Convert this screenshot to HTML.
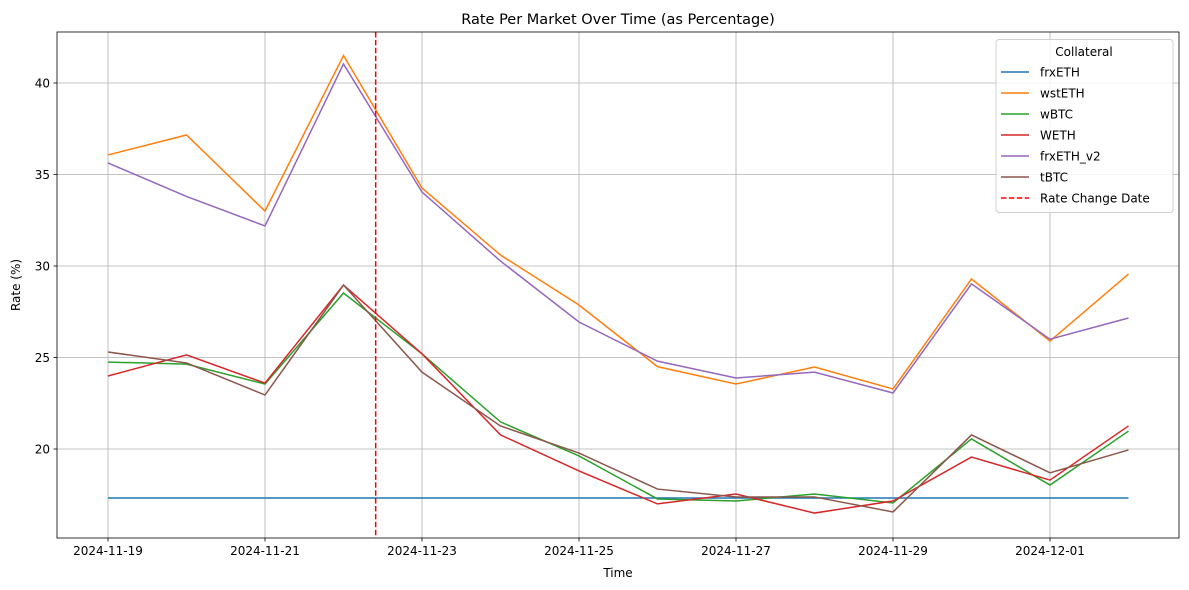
<!DOCTYPE html>
<html><head><meta charset="utf-8"><style>
body{margin:0;background:#fff;}
svg{display:block;font-family:"DejaVu Sans","Liberation Sans",sans-serif;}
</style></head><body>
<svg id="chart" width="1189" height="590" xmlns="http://www.w3.org/2000/svg"></svg>
<script>
const dates=["2024-11-19","2024-11-20","2024-11-21","2024-11-22","2024-11-23","2024-11-24","2024-11-25","2024-11-26","2024-11-27","2024-11-28","2024-11-29","2024-11-30","2024-12-01","2024-12-02"];
const xTickLabels=["2024-11-19","2024-11-21","2024-11-23","2024-11-25","2024-11-27","2024-11-29","2024-12-01"];
const yTicks=[20,25,30,35,40];
const seriesNames=["frxETH","wstETH","wBTC","WETH","frxETH_v2","tBTC"];
const frxETH=[17.32,17.32,17.32,17.32,17.32,17.32,17.32,17.32,17.32,17.32,17.32,17.32,17.32,17.32];
const wstETH=[36.07,37.16,33.0,41.5,34.26,30.6,27.87,24.5,23.55,24.48,23.28,29.29,25.9,29.56];
const wBTC=[24.75,24.64,23.55,28.52,25.2,21.48,19.62,17.27,17.16,17.54,17.05,20.55,18.03,20.98];
const WETH=[23.99,25.14,23.6,28.96,25.2,20.77,18.8,17.0,17.54,16.5,17.16,19.56,18.3,21.26];
const frxETH_v2=[35.63,33.8,32.19,41.04,34.04,30.27,26.94,24.8,23.88,24.2,23.06,29.02,26.0,27.16];
const tBTC=[25.3,24.7,22.95,28.96,24.2,21.26,19.78,17.81,17.38,17.38,16.56,20.77,18.7,19.95];
const rateChangeDay=3.41;
const colors=["#1f77b4","#ff7f0e","#2ca02c","#d62728","#9467bd","#8c564b"];
const allSeries=[frxETH,wstETH,wBTC,WETH,frxETH_v2,tBTC];

const svg=document.getElementById('chart');
const NS="http://www.w3.org/2000/svg";
const L=57,R=1179,T=32,B=538;
const x=d=>108+d*78.5;
const y=v=>449-(v-20)*18.3;
const dayIdx=s=>dates.indexOf(s);
function el(t,a,txt){const e=document.createElementNS(NS,t);for(const k in a)e.setAttribute(k,a[k]);if(txt!==undefined)e.textContent=txt;svg.appendChild(e);return e;}

// grid
xTickLabels.forEach(s=>{
const g=el('line',{x1:x(dayIdx(s)),x2:x(dayIdx(s)),y1:T,y2:B,stroke:'#b0b0b0','stroke-width':0.8});


});
yTicks.forEach(v=>{
const g=el('line',{x1:L,x2:R,y1:y(v),y2:y(v),stroke:'#b0b0b0','stroke-width':0.8});


});
// series
allSeries.forEach((s,i)=>{
const p=el('polyline',{points:s.map((v,j)=>x(j)+','+y(v)).join(' '),fill:'none',stroke:colors[i],'stroke-width':1.5});


});
const rc=el('line',{x1:x(rateChangeDay),x2:x(rateChangeDay),y1:T,y2:B,stroke:'#ff0000','stroke-width':1.5,'stroke-dasharray':'5.5,2.4'});


// frame
const fr=el('rect',{x:L,y:T,width:R-L,height:B-T,fill:'none',stroke:'#000','stroke-width':0.8});


// ticks
xTickLabels.forEach(s=>{
const xx=x(dayIdx(s));
el('line',{x1:xx,x2:xx,y1:B,y2:B+3.5,stroke:'#000','stroke-width':0.8});
const t=el('text',{x:xx,y:B+17,'font-size':12,'text-anchor':'middle'},s);


});
yTicks.forEach(v=>{
el('line',{x1:L-3.5,x2:L,y1:y(v),y2:y(v),stroke:'#000','stroke-width':0.8});
const t=el('text',{x:L-7,y:y(v)+4.5,'font-size':12,'text-anchor':'end'},v);


});
const tt=el('text',{x:618,y:24,'font-size':14.5,'text-anchor':'middle'},'Rate Per Market Over Time (as Percentage)');


const xt=el('text',{x:618,y:577,'font-size':12,'text-anchor':'middle'},'Time');


const yt=el('text',{x:20,y:285,'font-size':12,'text-anchor':'middle',transform:'rotate(-90 20 285)'},'Rate (%)');


// legend
const lg=el('rect',{x:996,y:39.5,width:177,height:173,rx:3,fill:'#fff','fill-opacity':0.85,stroke:'#d0d0d0','stroke-width':1});


const lt=el('text',{x:1084,y:56,'font-size':12,'text-anchor':'middle'},'Collateral');


const names=seriesNames.concat(['Rate Change Date']);
names.forEach((n,i)=>{
const yy=72+i*21;
const c=i<6?colors[i]:'#ff0000';
const ln=el('line',{x1:1001,x2:1029,y1:yy,y2:yy,stroke:c,'stroke-width':1.5});
if(i==6)ln.setAttribute('stroke-dasharray','5.5,2.4');


const t=el('text',{x:1040,y:yy+4.5,'font-size':12},n);


});
</script>
</body></html>
